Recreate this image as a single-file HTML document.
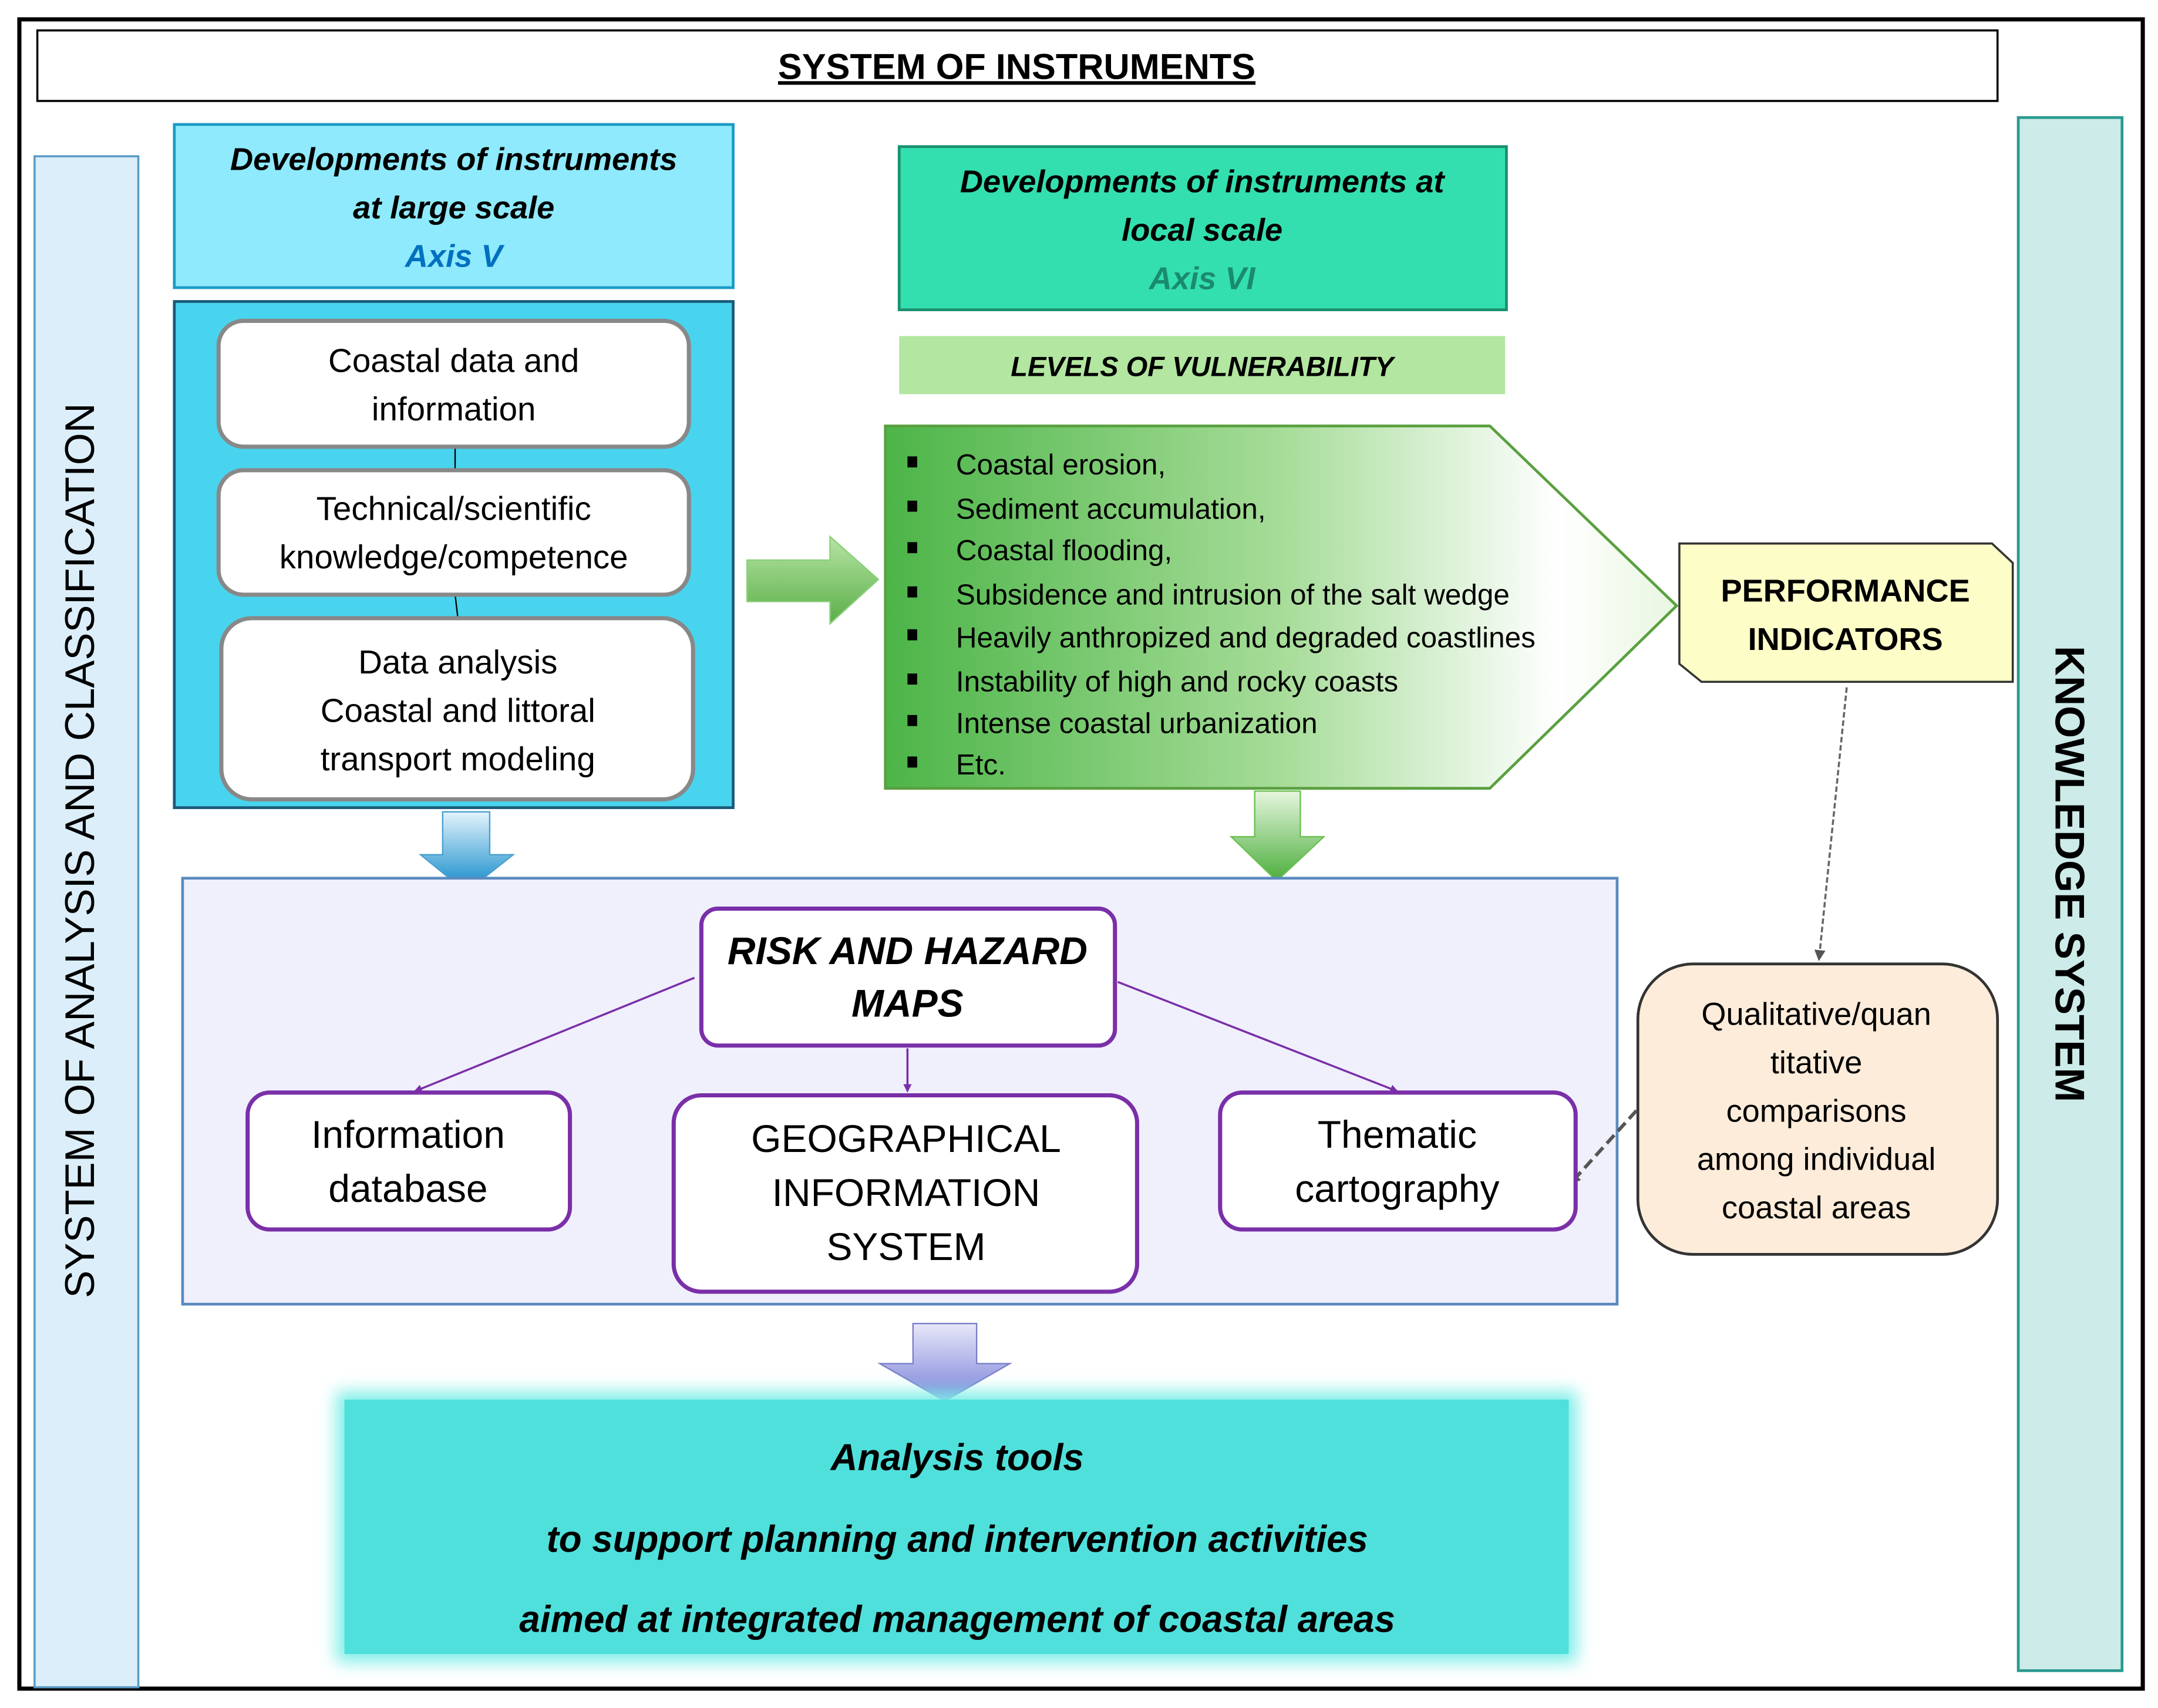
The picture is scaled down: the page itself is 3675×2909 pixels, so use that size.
<!DOCTYPE html>
<html><head><meta charset="utf-8"><style>
html,body{margin:0;padding:0;background:#fff;}
svg{display:block;}
text{font-family:"Liberation Sans",sans-serif;}
</style></head><body>
<svg width="3675" height="2909" viewBox="0 0 1560 1235" preserveAspectRatio="none" xmlns="http://www.w3.org/2000/svg">
<defs>
<linearGradient id="gp" x1="0" y1="0" x2="1" y2="0"><stop offset="0" stop-color="#4cb548"/><stop offset="0.5" stop-color="#a6dc98"/><stop offset="0.85" stop-color="#ffffff"/><stop offset="1" stop-color="#e8f6e0"/></linearGradient>
<linearGradient id="gr" x1="0" y1="0" x2="0" y2="1"><stop offset="0" stop-color="#b6e4a4"/><stop offset="1" stop-color="#5aae48"/></linearGradient>
<linearGradient id="gg" x1="0" y1="0" x2="0" y2="1"><stop offset="0" stop-color="#e6f6de"/><stop offset="1" stop-color="#4cae3c"/></linearGradient>
<linearGradient id="gb" x1="0" y1="0" x2="0" y2="1"><stop offset="0" stop-color="#e4f4fc"/><stop offset="1" stop-color="#0a86c8"/></linearGradient>
<linearGradient id="gv" x1="0" y1="0" x2="0" y2="1"><stop offset="0" stop-color="#e8e8fa"/><stop offset="1" stop-color="#7a80d8"/></linearGradient>
<filter id="glow" x="-10%" y="-20%" width="120%" height="140%"><feGaussianBlur stdDeviation="6"/></filter>
<marker id="ah" markerWidth="8" markerHeight="8" refX="6" refY="4" orient="auto" markerUnits="userSpaceOnUse"><path d="M0,0 L8,4 L0,8 z" fill="#555"/></marker>
<marker id="ap" markerWidth="6" markerHeight="6" refX="5" refY="3" orient="auto" markerUnits="userSpaceOnUse"><path d="M0,0 L6,3 L0,6 z" fill="#7a2fa8"/></marker>
</defs>
<rect x="14" y="14" width="1535" height="1207" fill="#fff" stroke="#000" stroke-width="3"/>
<rect x="27" y="22" width="1417" height="51" fill="#fff" stroke="#000" stroke-width="1.5"/>
<text x="735" y="57" font-size="26" font-weight="bold" text-anchor="middle" text-decoration="underline">SYSTEM OF INSTRUMENTS</text>

<rect x="25" y="113" width="75" height="1107" fill="#dbeef9" stroke="#5a9bc4" stroke-width="1.5"/>
<text transform="translate(68,615) rotate(-90)" font-size="30" text-anchor="middle">SYSTEM OF ANALYSIS AND CLASSIFICATION</text>
<rect x="1459" y="85" width="75" height="1123" fill="#cdebe8" stroke="#2a9a90" stroke-width="2"/>
<text transform="translate(1486,632) rotate(90)" font-size="30" font-weight="bold" text-anchor="middle">KNOWLEDGE SYSTEM</text>

<rect x="126" y="90" width="404" height="118" fill="#8eeafc" stroke="#1a9bc4" stroke-width="2"/>
<g font-size="23" font-weight="bold" font-style="italic" text-anchor="middle">
<text x="328" y="123">Developments of instruments</text>
<text x="328" y="158">at large scale</text>
<text x="328" y="193" fill="#0070c0">Axis V</text></g>

<rect x="126" y="218" width="404" height="366" fill="#48d4ee" stroke="#1a5a78" stroke-width="2"/>
<line x1="329" y1="323" x2="329" y2="340" stroke="#000"/>
<line x1="329" y1="430" x2="331" y2="447" stroke="#000"/>
<g fill="#fff" stroke="#888" stroke-width="3">
<rect x="158" y="232" width="340" height="91" rx="18"/>
<rect x="158" y="340" width="340" height="90" rx="18"/>
<rect x="160" y="447" width="341" height="131" rx="22"/></g>
<g font-size="24" text-anchor="middle">
<text x="328" y="269">Coastal data and</text>
<text x="328" y="304">information</text>
<text x="328" y="376">Technical/scientific</text>
<text x="328" y="411">knowledge/competence</text>
<text x="331" y="487">Data analysis</text>
<text x="331" y="522">Coastal and littoral</text>
<text x="331" y="557">transport modeling</text></g>

<rect x="650" y="106" width="439" height="118" fill="#33dfae" stroke="#1a9070" stroke-width="2"/>
<g font-size="23" font-weight="bold" font-style="italic" text-anchor="middle">
<text x="869" y="139">Developments of instruments at</text>
<text x="869" y="174">local scale</text>
<text x="869" y="209" fill="#1a8a70">Axis VI</text></g>
<rect x="650" y="243" width="438" height="42" fill="#b3e6a0"/>
<text x="869" y="272" font-size="20" font-weight="bold" font-style="italic" text-anchor="middle">LEVELS OF VULNERABILITY</text>

<path d="M540,405 L600,405 L600,388 L635,419 L600,451 L600,435 L540,435 Z" fill="url(#gr)" stroke="#8cd07a"/>
<path d="M640,308 L1077,308 L1212,438 L1077,570 L640,570 Z" fill="url(#gp)" stroke="#5aa040" stroke-width="2"/>
<g font-size="21">
<text x="691" y="343">Coastal erosion,</text>
<text x="691" y="375">Sediment accumulation,</text>
<text x="691" y="405">Coastal flooding,</text>
<text x="691" y="437">Subsidence and intrusion of the salt wedge</text>
<text x="691" y="468">Heavily anthropized and degraded coastlines</text>
<text x="691" y="500">Instability of high and rocky coasts</text>
<text x="691" y="530">Intense coastal urbanization</text>
<text x="691" y="560">Etc.</text></g>
<g fill="#000">
<rect x="656" y="330" width="7" height="8"/><rect x="656" y="362" width="7" height="8"/><rect x="656" y="392" width="7" height="8"/><rect x="656" y="424" width="7" height="8"/><rect x="656" y="455" width="7" height="8"/><rect x="656" y="487" width="7" height="8"/><rect x="656" y="517" width="7" height="8"/><rect x="656" y="547" width="7" height="8"/></g>

<path d="M1214,393 L1440,393 L1455,407 L1455,493 L1230,493 L1214,480 Z" fill="#fdfdc8" stroke="#333" stroke-width="1.5"/>
<g font-size="23" font-weight="bold" text-anchor="middle"><text x="1334" y="435">PERFORMANCE</text><text x="1334" y="470">INDICATORS</text></g>
<line x1="1335" y1="497" x2="1315" y2="693" stroke="#666" stroke-width="1.5" stroke-dasharray="4,2" marker-end="url(#ah)"/>
<rect x="1184" y="697" width="260" height="210" rx="40" fill="#fdecda" stroke="#333" stroke-width="2"/>
<g font-size="23" text-anchor="middle">
<text x="1313" y="741">Qualitative/quan</text><text x="1313" y="776">titative</text><text x="1313" y="811">comparisons</text><text x="1313" y="846">among individual</text><text x="1313" y="881">coastal areas</text></g>

<path d="M320,587 L354,587 L354,618 L371,618 L337,645 L304,618 L320,618 Z" fill="url(#gb)" stroke="#4aa0d0"/>
<path d="M907,572 L940,572 L940,605 L957,605 L923,637 L890,605 L907,605 Z" fill="url(#gg)" stroke="#6ac050"/>

<rect x="132" y="635" width="1037" height="308" fill="#f0f0fc" stroke="#5b8bc0" stroke-width="2"/>
<line x1="1183" y1="803" x2="1136" y2="855" stroke="#555" stroke-width="2.5" stroke-dasharray="8,4" marker-end="url(#ah)"/>
<g stroke="#7a2fa8" stroke-width="1.5">
<line x1="502" y1="707" x2="300" y2="789" marker-end="url(#ap)"/>
<line x1="656" y1="758" x2="656" y2="789" marker-end="url(#ap)"/>
<line x1="808" y1="710" x2="1010" y2="789" marker-end="url(#ap)"/></g>
<g fill="#fff" stroke="#7a2fa8" stroke-width="3">
<rect x="507" y="657" width="299" height="99" rx="12"/>
<rect x="179" y="790" width="233" height="99" rx="16"/>
<rect x="487" y="792" width="335" height="142" rx="20"/>
<rect x="882" y="790" width="257" height="99" rx="16"/></g>
<g font-size="28" font-weight="bold" font-style="italic" text-anchor="middle"><text x="656" y="697">RISK AND HAZARD</text><text x="656" y="735">MAPS</text></g>
<g font-size="28" text-anchor="middle">
<text x="295" y="830">Information</text><text x="295" y="869">database</text>
<text x="655" y="833">GEOGRAPHICAL</text><text x="655" y="872">INFORMATION</text><text x="655" y="911">SYSTEM</text>
<text x="1010" y="830">Thematic</text><text x="1010" y="869">cartography</text></g>

<path d="M660,957 L706,957 L706,986 L730,986 L683,1013 L636,986 L660,986 Z" fill="url(#gv)" stroke="#7a80c8"/>
<rect x="243" y="1006" width="897" height="196" fill="#80eee8" filter="url(#glow)"/>
<rect x="249" y="1012" width="885" height="184" fill="#50e0dc"/>
<g font-size="27" font-weight="bold" font-style="italic" text-anchor="middle">
<text x="692" y="1063">Analysis tools</text>
<text x="692" y="1122">to support planning and intervention activities</text>
<text x="692" y="1180">aimed at integrated management of coastal areas</text></g>
</svg>
</body></html>
